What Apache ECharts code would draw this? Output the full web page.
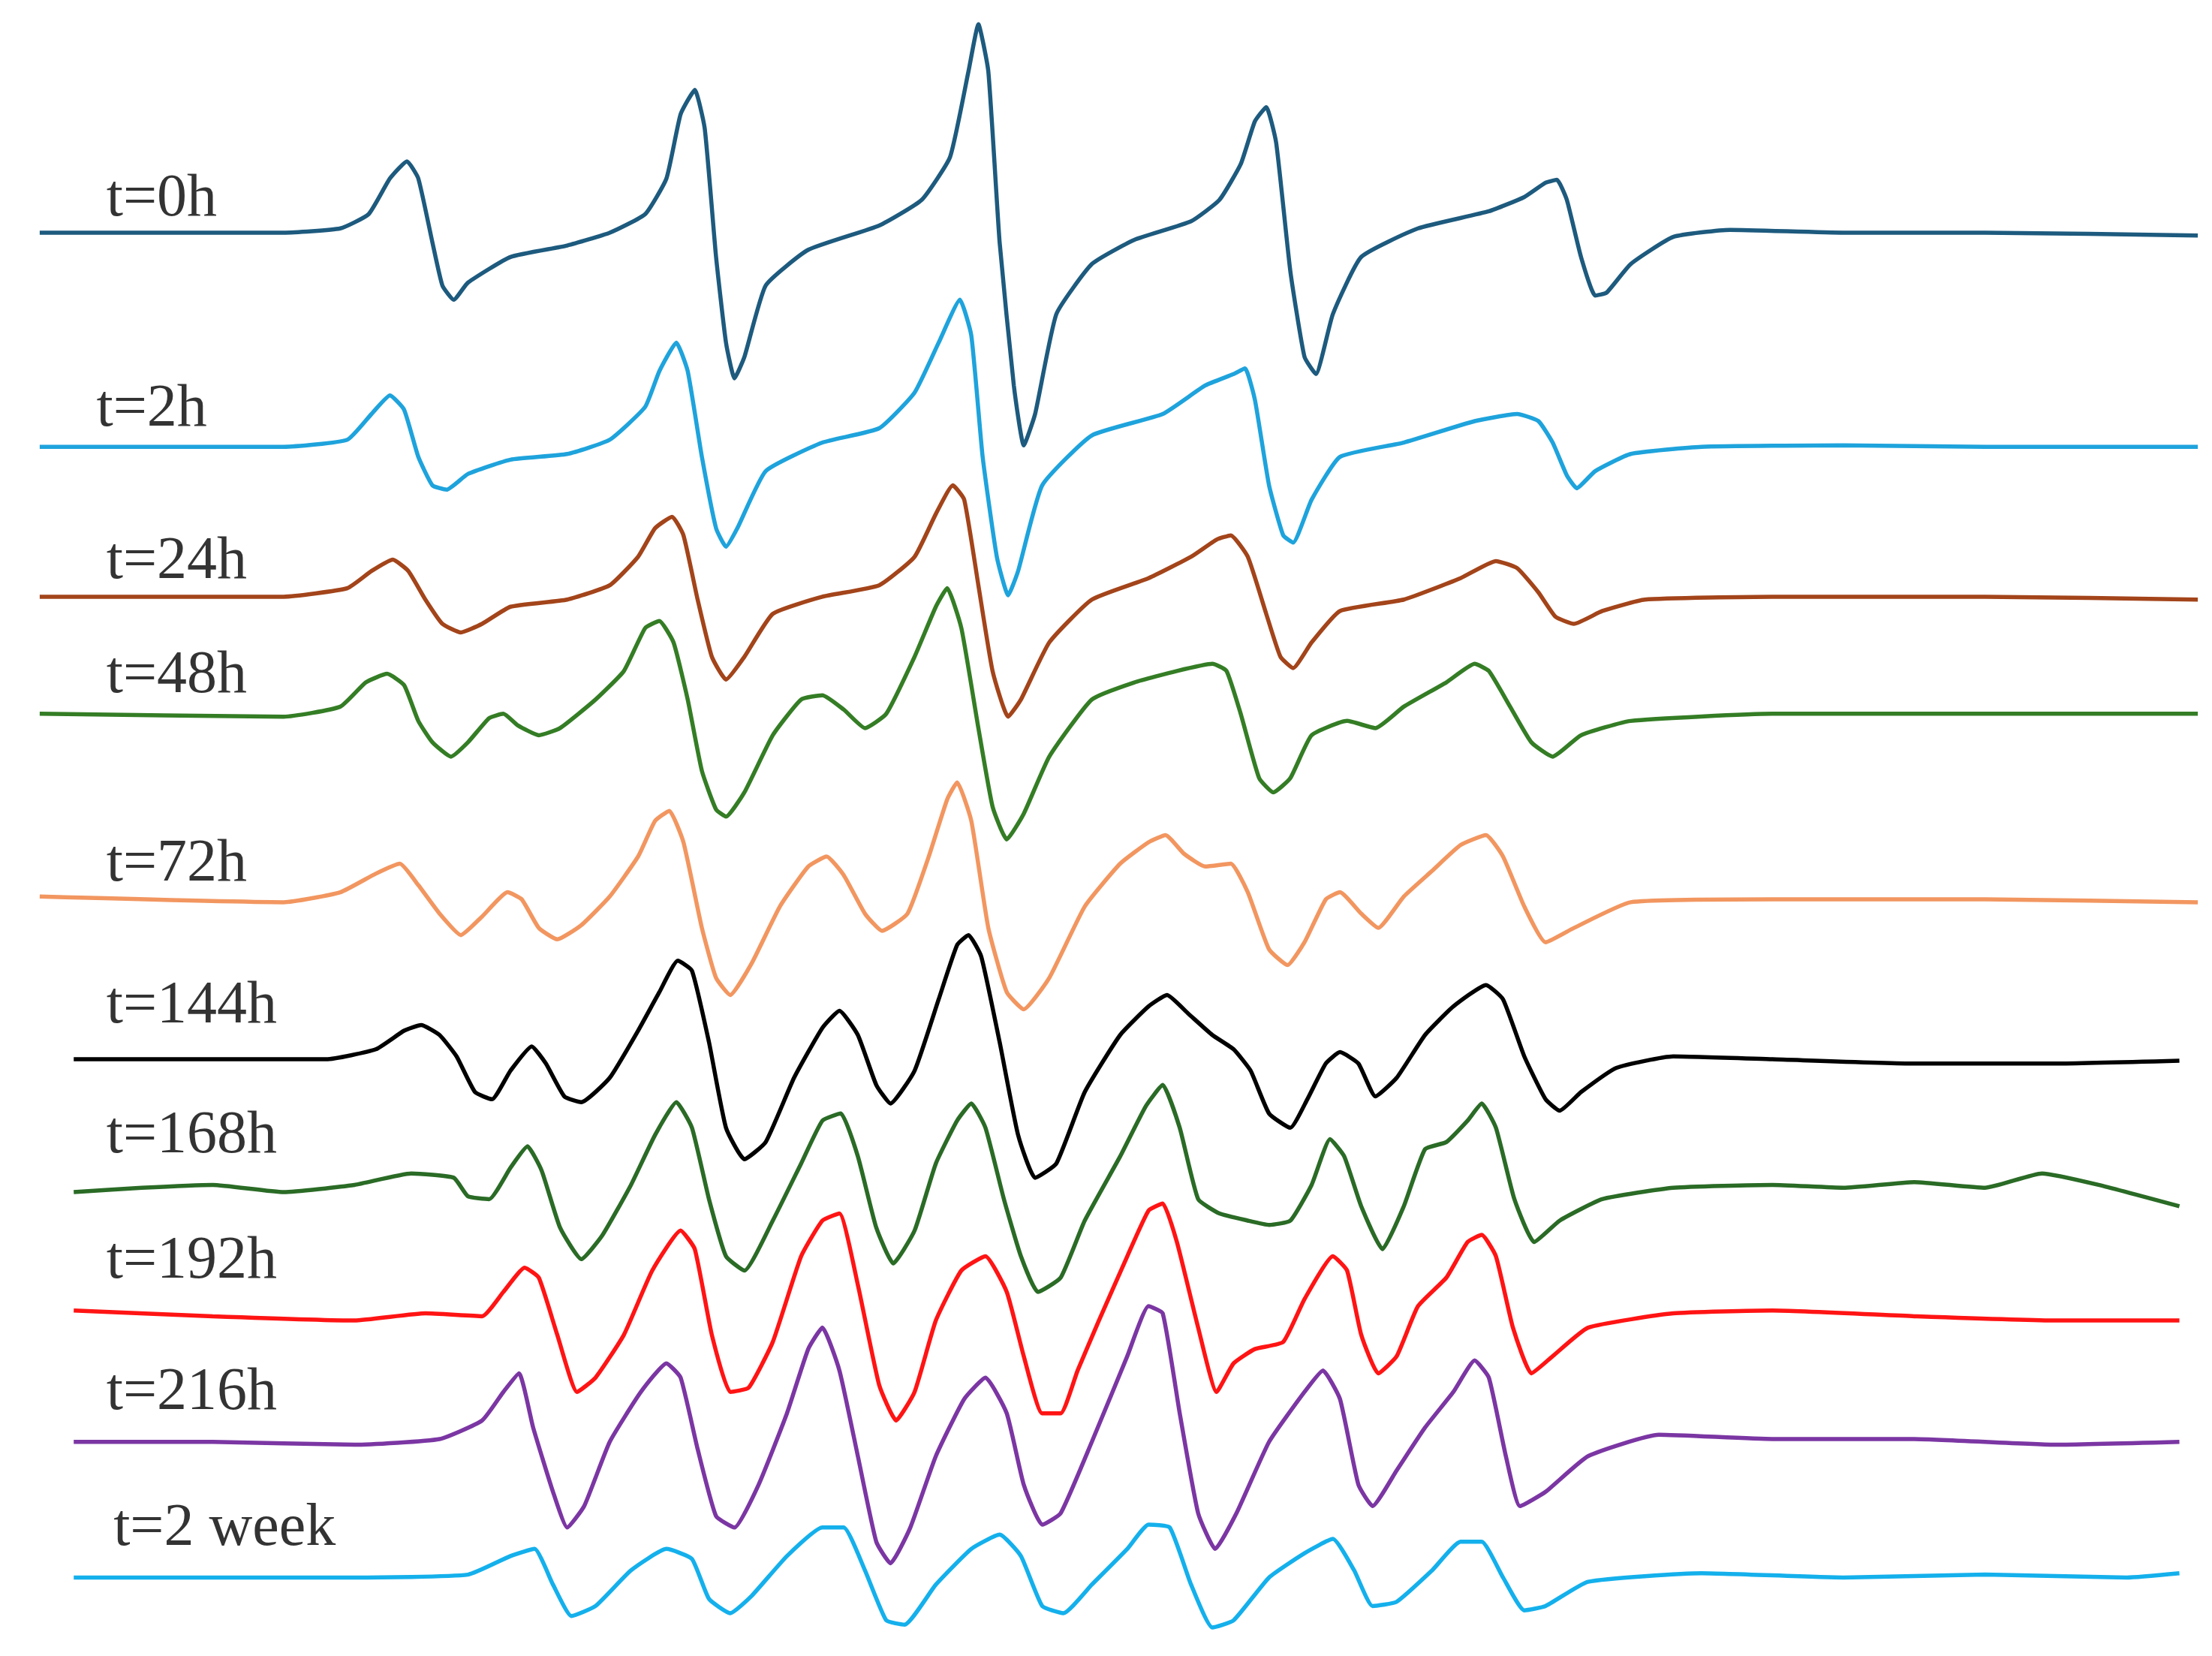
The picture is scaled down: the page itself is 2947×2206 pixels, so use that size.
<!DOCTYPE html>
<html><head><meta charset="utf-8">
<script src="https://cdn.jsdelivr.net/npm/echarts@6/dist/echarts.min.js"></script>
<style>html,body{margin:0;padding:0;background:#fff}#c{width:2947px;height:2206px}</style>
</head><body><div id="c"></div>
<script>
const labels=["t=0h","t=2h","t=24h","t=48h","t=72h","t=144h","t=168h","t=192h","t=216h","t=2 week"];
const labelPos=[[75,140],[68,287],[75,394],[75,474],[75,606],[75,705],[75,796],[75,884],[75,976],[80,1071]];
const colors=["#1d5a7e","#1ea3dc","#a3441a","#347d25","#f29660","#000000","#2a6b26","#ff1414","#7b36a3","#14b0ec"];
const t0=[[28,163],[100,163],[200,163],[240,160],[260,150],[275,125],[287,113],[295,125],[305,170],[312,200],[320,210],[330,198],[360,180],[400,172],[430,163],[455,150],[470,125],[480,80],[490,63],[497,90],[505,180],[512,240],[518,265],[525,250],[540,200],[570,175],[620,158],[650,140],[670,110],[683,50],[690,17],[697,50],[705,170],[715,270],[722,312],[730,290],[745,220],[770,185],[800,168],[840,155],[860,140],[875,115],[885,85],[893,75],[900,100],[910,190],[920,250],[928,262],[940,220],[960,180],[1000,160],[1050,148],[1075,138],[1090,128],[1098,126],[1105,140],[1115,180],[1125,207],[1133,205],[1150,185],[1180,166],[1220,161],[1300,163],[1400,163],[1550,165]];
const t2=[[28,313],[200,313],[245,308],[262,290],[275,277],[285,287],[295,320],[305,340],[315,343],[330,332],[360,322],[400,318],[430,308],[455,285],[465,260],[477,240],[485,260],[495,320],[505,370],[512,383],[520,370],[540,330],[580,310],[620,300],[645,275],[662,240],[677,210],[685,235],[693,320],[703,390],[711,417],[718,400],[735,340],[770,305],[820,290],[850,270],[870,262],[878,258],[885,280],[895,340],[905,375],[912,380],[925,350],[945,320],[990,310],[1040,295],[1070,290],[1085,295],[1095,310],[1105,333],[1112,342],[1125,330],[1150,318],[1200,313],[1300,312],[1400,313],[1550,313]];
const t24=[[28,418],[200,418],[245,412],[262,400],[277,392],[288,400],[300,420],[312,437],[325,443],[340,437],[360,425],[400,420],[430,410],[450,390],[462,370],[474,362],[482,375],[492,420],[502,460],[512,476],[525,460],[545,430],[580,418],[620,410],[645,390],[660,360],[672,340],[680,350],[690,410],[700,470],[711,502],[720,490],[740,450],[770,420],[810,405],[840,390],[858,378],[868,375],[880,390],[893,430],[903,460],[912,468],[925,450],[945,428],[990,420],[1030,405],[1055,393],[1070,398],[1085,415],[1097,432],[1110,437],[1130,428],[1160,420],[1250,418],[1400,418],[1550,420]];
const t48=[[28,500],[200,502],[240,495],[258,478],[273,472],[285,480],[295,505],[305,520],[318,530],[330,520],[345,503],[355,500],[365,508],[380,515],[395,510],[420,490],[440,470],[455,440],[465,435],[475,450],[485,490],[495,540],[505,567],[512,572],[525,555],[545,515],[565,490],[580,487],[595,497],[610,510],[625,500],[645,460],[660,425],[668,412],[678,440],[690,510],[700,565],[710,588],[722,570],[740,530],[770,490],[800,478],[830,470],[855,465],[865,470],[875,500],[888,545],[898,555],[910,545],[925,515],[950,505],[970,510],[990,495],[1020,478],[1040,465],[1050,470],[1065,495],[1080,520],[1095,530],[1115,515],[1150,505],[1250,500],[1400,500],[1550,500]];
const t72=[[28,628],[200,632],[240,625],[265,612],[282,605],[295,620],[310,640],[325,655],[340,642],[358,625],[368,630],[380,650],[393,658],[410,648],[430,628],[450,600],[462,575],[472,568],[482,590],[495,650],[505,685],[515,697],[530,675],[550,635],[570,607],[583,600],[595,613],[610,640],[622,652],[640,640],[655,600],[668,560],[675,548],[685,575],[697,650],[710,695],[722,707],[740,685],[765,635],[790,605],[810,590],[822,585],[835,598],[850,607],[868,605],[880,625],[895,665],[908,676],[920,660],[935,630],[945,625],[960,640],[972,650],[990,628],[1010,610],[1030,592],[1048,585],[1060,600],[1075,635],[1090,660],[1110,650],[1150,632],[1250,630],[1400,630],[1550,632]];
const t144=[[52,742],[150,742],[230,742],[265,735],[285,722],[297,718],[310,725],[322,740],[335,765],[347,770],[360,750],[375,733],[385,745],[398,768],[410,772],[430,755],[450,722],[465,695],[478,673],[488,680],[500,730],[512,790],[525,812],[540,800],[560,755],[580,720],[592,708],[605,725],[618,760],[628,773],[645,750],[662,700],[675,662],[683,655],[692,670],[705,730],[718,795],[730,825],[745,815],[765,765],[790,725],[810,705],[823,697],[838,710],[855,725],[870,735],[882,750],[895,780],[910,790],[922,770],[935,745],[945,737],[958,745],[970,768],[985,755],[1005,725],[1025,705],[1048,690],[1060,700],[1075,740],[1090,770],[1100,778],[1115,765],[1140,748],[1180,740],[1250,742],[1350,745],[1450,745],[1537,743]];
const t168=[[52,835],[100,832],[150,830],[200,835],[250,830],[290,822],[320,825],[330,838],[345,840],[360,818],[372,803],[382,820],[395,860],[410,882],[425,865],[445,830],[462,795],[477,772],[488,790],[500,840],[512,880],[525,890],[545,855],[565,815],[580,785],[593,780],[605,810],[618,860],[630,885],[645,862],[660,815],[675,785],[685,773],[695,790],[708,840],[720,880],[732,905],[748,895],[765,855],[790,810],[808,775],[820,760],[832,790],[845,840],[860,850],[880,855],[895,858],[910,855],[925,830],[938,798],[948,810],[960,845],[975,875],[990,845],[1005,805],[1020,800],[1035,785],[1045,773],[1055,790],[1068,840],[1082,870],[1100,855],[1130,840],[1180,832],[1250,830],[1300,832],[1350,828],[1400,832],[1440,822],[1480,830],[1537,845]];
const t192=[[52,918],[150,922],[250,925],[300,920],[340,922],[355,905],[370,888],[380,895],[393,935],[407,975],[420,965],[440,935],[460,890],[480,862],[490,875],[502,935],[515,975],[528,972],[545,940],[565,880],[580,855],[592,850],[605,900],[620,970],[632,995],[645,975],[660,925],[678,890],[695,880],[710,905],[722,950],[735,990],[748,990],[760,960],[775,925],[795,880],[810,848],[820,843],[830,870],[845,930],[858,975],[870,955],[885,945],[905,940],[920,910],[940,880],[950,890],[960,935],[972,962],[985,950],[1000,915],[1020,895],[1035,870],[1045,865],[1055,880],[1067,930],[1080,962],[1095,950],[1120,930],[1180,920],[1250,918],[1350,922],[1450,925],[1537,925]];
const t216=[[52,1010],[150,1010],[250,1012],[310,1008],[340,995],[355,975],[366,962],[376,1000],[390,1045],[400,1070],[412,1055],[430,1010],[452,975],[470,955],[480,965],[492,1015],[505,1062],[518,1070],[535,1040],[555,990],[570,945],[580,930],[592,960],[605,1020],[618,1080],[628,1095],[642,1070],[660,1020],[680,980],[695,965],[710,990],[722,1040],[735,1068],[748,1060],[770,1010],[795,950],[810,915],[820,920],[832,990],[845,1060],[857,1085],[872,1060],[895,1010],[920,975],[933,960],[945,980],[958,1040],[968,1055],[985,1030],[1005,1000],[1025,975],[1040,953],[1050,965],[1062,1020],[1072,1055],[1090,1045],[1120,1020],[1170,1005],[1250,1008],[1350,1008],[1450,1012],[1537,1010]];
const t2w=[[52,1105],[150,1105],[250,1105],[330,1103],[360,1090],[377,1085],[390,1110],[403,1132],[420,1125],[445,1100],[470,1085],[488,1092],[500,1120],[515,1130],[530,1118],[555,1090],[580,1070],[595,1070],[610,1100],[625,1135],[638,1138],[660,1110],[685,1085],[705,1075],[720,1090],[735,1125],[750,1130],[770,1110],[795,1085],[810,1068],[825,1070],[840,1110],[855,1140],[870,1135],[895,1105],[920,1088],[940,1078],[955,1100],[968,1125],[985,1122],[1010,1100],[1030,1080],[1045,1080],[1060,1105],[1075,1128],[1090,1125],[1120,1108],[1200,1102],[1300,1105],[1400,1103],[1500,1105],[1537,1102]];
const traces=[t0,t2,t24,t48,t72,t144,t168,t192,t216,t2w];
const chart=echarts.init(document.getElementById('c'));
const series=traces.map((d,i)=>({type:'line',data:d,symbol:'none',smooth:0.15,lineStyle:{color:colors[i],width:5.5},z:2}));
series.push({type:'scatter',data:labelPos.map((p,i)=>({value:p,name:labels[i]})),symbolSize:0,
 label:{show:true,position:'right',distance:0,formatter:p=>p.name,fontFamily:'Liberation Serif',fontSize:80,color:'#000'},z:5});
chart.setOption({animation:false,
 grid:{left:0,right:0,top:0,bottom:0},
 xAxis:{type:'value',min:0,max:1560,show:false},
 yAxis:{type:'value',min:0,max:1160,inverse:true,show:false},
 series});
</script></body></html>
